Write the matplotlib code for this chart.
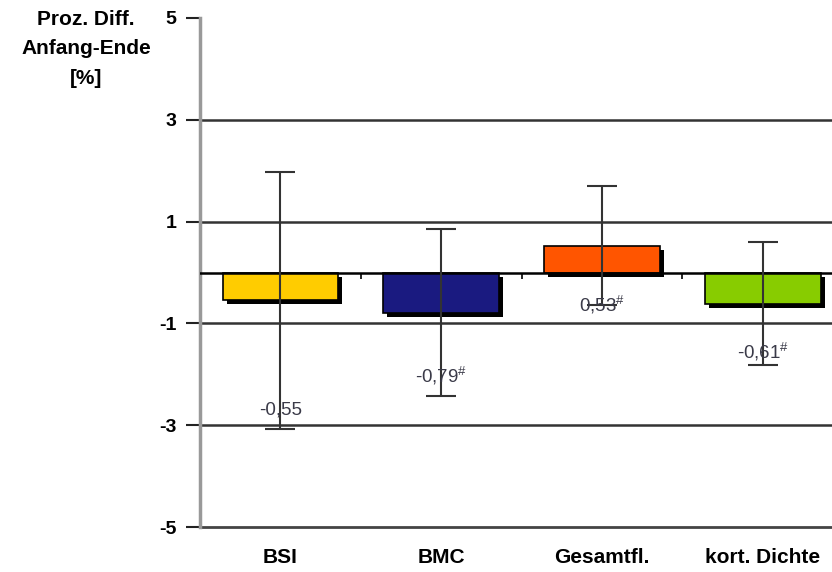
import numpy as np
import matplotlib
matplotlib.use("Agg")
import matplotlib.pyplot as plt
from matplotlib.transforms import offset_copy

plt.rcParams['font.family'] = ['Liberation Sans', 'DejaVu Sans']
plt.rcParams['mathtext.fontset'] = 'custom'
plt.rcParams['mathtext.rm'] = 'Liberation Sans'

categories = ["BSI", "BMC", "Gesamtfl.", "kort. Dichte"]
values = [-0.55, -0.79, 0.53, -0.61]
errors = [2.53, 1.64, 1.16, 1.20]
labels = ["-0,55", "-0,79$^{\\#}$", "0,53$^{\\#}$", "-0,61$^{\\#}$"]
label_y = [-2.70, -2.03, -0.64, -1.56]
colors = ["#FFCC00", "#1A1A80", "#FF5500", "#88CC00"]
yticks = [-5, -3, -1, 1, 3, 5]

fig = plt.figure(figsize=(8.32, 5.72), dpi=100)
ax = fig.add_axes([200/832, 1-527/572, 632/832, 509/572])

x = np.arange(len(categories))
w = 0.72

# gridlines
for t in yticks[1:-1]:
    ax.axhline(t, color="#333333", lw=1.8, zorder=1)

# shadow
shadow = offset_copy(ax.transData, fig=fig, x=4, y=-4, units='dots')
ax.bar(x, values, w, color="black", transform=shadow, zorder=2)
ax.bar(x, values, w, color=colors, edgecolor="black", lw=1.2, zorder=3)

ax.axhline(0, color="black", lw=1.8, zorder=4)
ax.vlines(x[:-1] + 0.5, -0.12, 0, color="black", lw=1.2, zorder=4)

ax.errorbar(x, values, yerr=errors, fmt='none', ecolor="#333333",
            elinewidth=1.5, capsize=11, capthick=1.5, zorder=5)

for xi, yi, lab in zip(x, label_y, labels):
    ax.text(xi, yi, lab, ha='center', va='center', fontsize=13.5,
            color="#3a3a48", zorder=6)

ax.set_xlim(-0.5, 3.43)
ax.set_ylim(-5, 5)
ax.set_yticks(yticks)
ax.set_yticklabels([str(t) for t in yticks], fontweight='bold', fontsize=14)
ax.tick_params(axis='y', length=10, width=1.5, color="#222222", pad=7)
ax.set_xticks(x)
ax.set_xticklabels(categories, fontweight='bold', fontsize=15)
ax.tick_params(axis='x', length=0, pad=15)

for s in ['top', 'right']:
    ax.spines[s].set_visible(False)
ax.spines['left'].set_color("#999999")
ax.spines['left'].set_linewidth(2.5)
ax.spines['bottom'].set_color("#444444")
ax.spines['bottom'].set_linewidth(2)
ax.spines['bottom'].set_zorder(1)

fig.text(86/832, 1-10/572, "Proz. Diff.\nAnfang-Ende\n[%]", ha='center', va='top',
         fontweight='bold', fontsize=15, linespacing=1.7)

fig.savefig("out.png", dpi=100)
